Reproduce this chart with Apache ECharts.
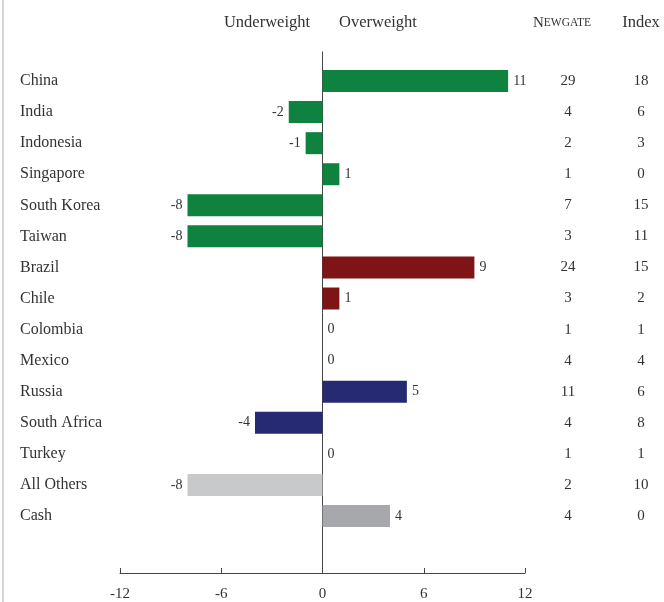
<!DOCTYPE html>
<html>
<head>
<meta charset="utf-8">
<script src="https://cdn.jsdelivr.net/npm/echarts@6/dist/echarts.min.js"></script>
<style>html,body{margin:0;padding:0;background:#fff}#c{width:664px;height:602px}</style>
</head>
<body>
<div id="c"></div>
<script>
const categories = ['China','India','Indonesia','Singapore','South Korea','Taiwan','Brazil','Chile','Colombia','Mexico','Russia','South Africa','Turkey','All Others','Cash'];
const activeWeight = [11,-2,-1,1,-8,-8,9,1,0,0,5,-4,0,-8,4];
const newgateWeight = [29,4,2,1,7,3,24,3,1,4,11,4,1,2,4];
const indexWeight = [18,6,3,0,15,11,15,2,1,4,6,8,1,10,0];
const groups = ['asia','asia','asia','asia','asia','asia','latam','latam','latam','latam','emea','emea','emea','others','cash'];
const xTicks = [-12,-6,0,6,12];

const groupColors = {asia:'#10823F', latam:'#7F1416', emea:'#262A72', others:'#C8C9CB', cash:'#A7A8AB'};
const FONT = 'Liberation Serif';
const TXT = '#333';

const chart = echarts.init(document.getElementById('c'));
chart.setOption({
  animation:false,
  backgroundColor:'#fff',
  textStyle:{fontFamily:FONT},
  grid:[
    {left:120, right:139, top:65.5, height:466, containLabel:false},
    {left:120, right:139, top:52, bottom:28, containLabel:false}
  ],
  xAxis:[
    {gridIndex:0, type:'value', min:-12, max:12, interval:6, show:false},
    {gridIndex:1, type:'value', min:xTicks[0], max:xTicks[xTicks.length-1], interval:6,
     axisLine:{show:true, onZero:false, lineStyle:{color:'#444', width:1}},
     axisTick:{show:true, inside:true, length:5, lineStyle:{color:'#444'}},
     splitLine:{show:false},
     axisLabel:{color:TXT, fontFamily:FONT, fontSize:15, margin:14}}
  ],
  yAxis:[
    {gridIndex:0, type:'category', data:categories, inverse:true,
     axisLine:{show:false}, axisTick:{show:false},
     axisLabel:{color:TXT, fontFamily:FONT, fontSize:16, align:'left', margin:100}},
    {gridIndex:0, type:'category', data:categories, inverse:true, position:'right',
     axisLine:{show:false}, axisTick:{show:false},
     axisLabel:{align:'left', margin:18,
       formatter:(v,i)=>'{a|'+newgateWeight[i]+'}{b|'+indexWeight[i]+'}',
       rich:{a:{width:50, align:'center', fontFamily:FONT, fontSize:15, color:TXT},
             b:{width:96, align:'center', fontFamily:FONT, fontSize:15, color:TXT}}}},
    {gridIndex:1, type:'value', min:0, max:1, axisLabel:{show:false}, axisTick:{show:false}, splitLine:{show:false},
     axisLine:{show:true, onZero:true, lineStyle:{color:'#444', width:1}}}
  ],
  series:[{
    type:'bar', xAxisIndex:0, yAxisIndex:0, barWidth:22,
    data: activeWeight.map((v,i)=>({
      value:v,
      itemStyle:{color:groupColors[groups[i]]},
      label:{position: v<0 ? 'left':'right'}
    })),
    label:{show:true, distance:5, color:TXT, fontFamily:FONT, fontSize:14}
  }],
  graphic:[
    {type:'line', shape:{x1:3,y1:0,x2:3,y2:602}, style:{stroke:'#d4d4d4', lineWidth:2}},
    {type:'text', x:267, y:23, style:{text:'Underweight', font:'16.5px "Liberation Serif"', fill:TXT, align:'center', verticalAlign:'middle'}},
    {type:'text', x:339, y:23, style:{text:'Overweight', font:'16.5px "Liberation Serif"', fill:TXT, align:'left', verticalAlign:'middle'}},
    {type:'text', x:562, y:23, style:{text:'{n|N}{s|EWGATE}', align:'center', verticalAlign:'middle',
      rich:{n:{fontFamily:FONT, fontSize:15, fill:TXT}, s:{fontFamily:FONT, fontSize:11.5, fill:TXT}}}},
    {type:'text', x:641, y:23, style:{text:'Index', font:'16.5px "Liberation Serif"', fill:TXT, align:'center', verticalAlign:'middle'}}
  ]
});
</script>
</body>
</html>
